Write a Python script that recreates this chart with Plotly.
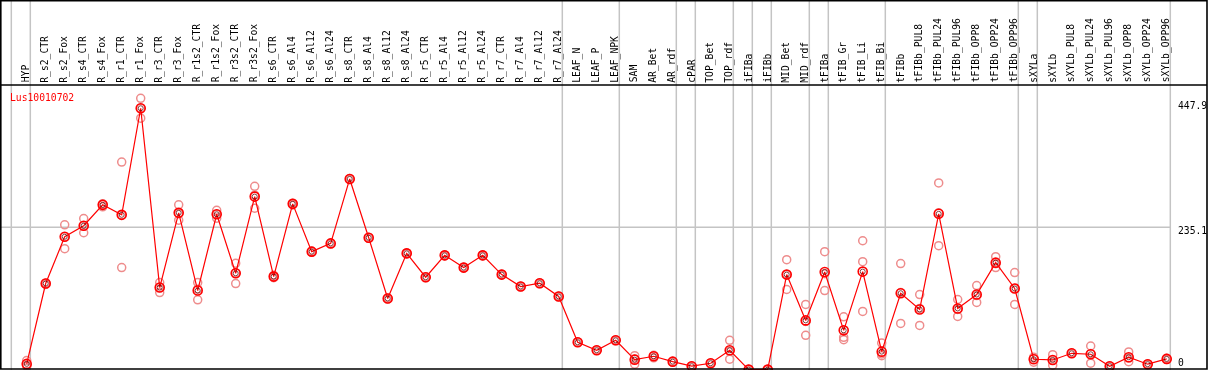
import plotly.graph_objects as go

gene_id = "Lus10010702"

categories = [
    "HYP", "R_s2_CTR", "R_s2_Fox", "R_s4_CTR", "R_s4_Fox", "R_r1_CTR", "R_r1_Fox",
    "R_r3_CTR", "R_r3_Fox", "R_r1s2_CTR", "R_r1s2_Fox", "R_r3s2_CTR", "R_r3s2_Fox",
    "R_s6_CTR", "R_s6_Al4", "R_s6_Al12", "R_s6_Al24", "R_s8_CTR", "R_s8_Al4",
    "R_s8_Al12", "R_s8_Al24", "R_r5_CTR", "R_r5_Al4", "R_r5_Al12", "R_r5_Al24",
    "R_r7_CTR", "R_r7_Al4", "R_r7_Al12", "R_r7_Al24", "LEAF_N", "LEAF_P", "LEAF_NPK",
    "SAM", "AR_Bet", "AR_rdf", "cPAR", "TOP_Bet", "TOP_rdf", "iFIBa", "iFIBb",
    "MID_Bet", "MID_rdf", "tFIBa", "tFIB_Gr", "tFIB_Li", "tFIB_Bi", "tFIBb",
    "tFIBb_PUL8", "tFIBb_PUL24", "tFIBb_PUL96", "tFIBb_OPP8", "tFIBb_OPP24", "tFIBb_OPP96",
    "sXYLa", "sXYLb", "sXYLb_PUL8", "sXYLb_PUL24", "sXYLb_PUL96", "sXYLb_OPP8",
    "sXYLb_OPP24", "sXYLb_OPP96",
]

mean_values = [
    9.9, 142.4, 219.6, 237.7, 272.2, 255.7, 431.5,
    135.8, 259.0, 130.9, 256.7, 159.3, 285.8,
    153.9, 273.8, 195.0, 208.6, 314.9, 218.0,
    117.8, 192.2, 152.8, 188.9, 168.7, 188.9,
    157.2, 137.5, 142.9, 121.1, 45.5, 32.4, 48.8,
    16.9, 22.5, 13.6, 6.1, 11.0, 32.4, 0.5, 0.5,
    157.2, 81.6, 161.5, 65.2, 162.1, 30.1, 126.5,
    99.7, 257.4, 101.3, 124.3, 176.9, 134.2,
    17.6, 16.4, 27.4, 25.8, 6.1, 20.9,
    9.4, 18.1,
]

rep1_values = [
    15.3, 141.0, 239.3, 249.7, 274.0, 342.8, 447.9,
    144.1, 272.2, 144.1, 263.3, 175.8, 302.7,
    152.0, 272.0, 194.0, 208.0, 314.0, 217.0,
    117.0, 191.5, 152.0, 188.0, 168.0, 188.0,
    156.5, 137.0, 142.0, 120.5, 45.0, 32.0, 48.0,
    23.5, 20.0, 13.0, 6.0, 11.0, 48.8, 0.5, 0.5,
    181.8, 107.9, 195.0, 87.5, 213.0, 44.3, 175.3,
    124.3, 308.3, 116.1, 139.1, 186.8, 160.5,
    20.9, 25.1, 27.0, 39.4, 6.0, 29.6,
    9.0, 17.0,
]

rep2_values = [
    8.2, 143.0, 199.9, 226.2, 269.0, 168.7, 415.1,
    127.6, 246.9, 115.5, 250.2, 142.4, 266.6,
    154.0, 274.0, 195.5, 209.0, 315.5, 218.5,
    118.5, 192.5, 153.5, 189.5, 169.0, 189.5,
    157.5, 138.0, 143.5, 121.5, 46.0, 32.8, 49.5,
    9.4, 23.0, 14.0, 6.2, 11.0, 17.6, 0.5, 0.5,
    132.6, 57.0, 130.9, 53.7, 178.5, 26.3, 76.7,
    73.4, 204.8, 88.2, 111.2, 168.7, 107.9,
    12.6, 7.7, 27.5, 11.0, 6.1, 13.6,
    9.5, 18.0,
]

rep3_values = [
    6.2, 143.0, 219.6, 237.2, 273.0, 255.6, 431.5,
    135.8, 257.9, 133.1, 256.6, 159.7, 288.1,
    156.0, 275.0, 195.5, 208.8, 315.2, 218.5,
    118.0, 192.6, 152.9, 189.2, 169.1, 189.2,
    157.6, 137.5, 143.2, 121.3, 45.5, 32.4, 48.9,
    17.8, 24.0, 14.0, 6.1, 11.0, 30.9, 0.5, 0.5,
    157.2, 79.9, 158.6, 49.8, 96.4, 23.5, 127.5,
    101.4, 259.1, 99.6, 122.6, 175.2, 134.2,
    19.3, 16.4, 27.7, 27.0, 6.2, 19.5,
    9.7, 19.3,
]

# last category index of each group (separator drawn just after it)
group_ends = [-1, 0, 28, 31, 34, 35, 37, 38, 39, 41, 42, 45, 52, 53, 60]

y_ticks = [0, 235.1, 447.9]
mid_line_value = 235.1

FIG_W, FIG_H = 1209, 370
PX_PER_CAT = 19.0
FIRST_X_PX = 26.7
ZERO_PX = 369.9
MAX_PX = 98.3
PX_PER_UNIT = (ZERO_PX - MAX_PX) / max(y_ticks)
HEADER_PX = 85.0

n = len(categories)
xs = list(range(n))

x_range = [(0 - FIRST_X_PX) / PX_PER_CAT, (FIG_W - FIRST_X_PX) / PX_PER_CAT]
y_range = [(ZERO_PX - FIG_H) / PX_PER_UNIT, ZERO_PX / PX_PER_UNIT]

mono = "DejaVu Sans Mono"
RED = "#ff0000"
LIGHT = "#ee8c8c"

fig = go.Figure()

rep_x, rep_y = [], []
for reps in (rep1_values, rep2_values, rep3_values):
    rep_x += xs
    rep_y += reps

fig.add_trace(go.Scatter(
    x=rep_x, y=rep_y, mode="markers",
    marker=dict(symbol="circle-open", size=8, color=LIGHT, line=dict(width=1.5, color=LIGHT)),
    hoverinfo="skip", showlegend=False,
))
fig.add_trace(go.Scatter(
    x=xs, y=mean_values, mode="lines+markers",
    line=dict(color=RED, width=1.2),
    marker=dict(symbol="circle-open", size=9, color=RED, line=dict(width=1.6, color=RED)),
    showlegend=False,
))
fig.add_trace(go.Scatter(
    x=xs, y=mean_values, mode="markers",
    marker=dict(symbol="circle-open", size=5, color="#5a0000", line=dict(width=1, color="#5a0000")),
    opacity=0.75, hoverinfo="skip", showlegend=False,
))

shapes = []
GRAY = "#c4c4c4"
for g in group_ends:
    shapes.append(dict(type="line", xref="x", yref="paper", x0=g + 0.19, x1=g + 0.19,
                       y0=0, y1=1, line=dict(color=GRAY, width=1.5), layer="below"))
shapes.append(dict(type="line", xref="paper", yref="y", x0=0, x1=(FIRST_X_PX + PX_PER_CAT * (group_ends[-1] + 0.19)) / FIG_W,
                   y0=mid_line_value, y1=mid_line_value, line=dict(color=GRAY, width=1.5), layer="below"))
# header separator
shapes.append(dict(type="line", xref="paper", yref="paper", x0=0, x1=1207 / FIG_W,
                   y0=1 - HEADER_PX / FIG_H, y1=1 - HEADER_PX / FIG_H, line=dict(color="black", width=1.5)))
# frame
shapes.append(dict(type="rect", xref="paper", yref="paper", x0=0.8 / FIG_W, x1=1207 / FIG_W,
                   y0=1 - 369 / FIG_H, y1=1 - 0.8 / FIG_H, line=dict(color="black", width=1.6)))

annotations = []
for i, c in enumerate(categories):
    annotations.append(dict(x=i - 0.05, xref="x", y=1 - 83.5 / FIG_H, yref="paper",
                            text=c, textangle=-90, showarrow=False, xanchor="center", yanchor="bottom",
                            font=dict(family=mono, size=9.7, color="black"), borderpad=0))

annotations.append(dict(x=9 / FIG_W, xref="paper", y=1 - 97 / FIG_H, yref="paper", text=gene_id,
                        showarrow=False, xanchor="left", yanchor="middle",
                        font=dict(family=mono, size=9.7, color=RED), borderpad=0))

tick_shift = {0: 7.5, 235.1: -3.5, 447.9: -7.0}
for v in y_ticks:
    label = f"{v:g}"
    annotations.append(dict(x=1177 / FIG_W, xref="paper", y=v, yref="y", text=label,
                            showarrow=False, xanchor="left", yanchor="middle", yshift=tick_shift[v],
                            font=dict(family=mono, size=9.7, color="black"), borderpad=0))

fig.update_layout(
    width=FIG_W, height=FIG_H, autosize=False,
    margin=dict(l=0, r=0, t=0, b=0, pad=0),
    paper_bgcolor="white", plot_bgcolor="white",
    xaxis=dict(range=x_range, visible=False, showgrid=False, zeroline=False, fixedrange=True),
    yaxis=dict(range=y_range, visible=False, showgrid=False, zeroline=False, fixedrange=True),
    shapes=shapes, annotations=annotations, showlegend=False,
)

fig.write_html(
    "out.html",
    config={"displayModeBar": False},
    post_script="document.body.style.margin='0';document.body.style.padding='0';document.body.style.overflow='hidden';",
)
